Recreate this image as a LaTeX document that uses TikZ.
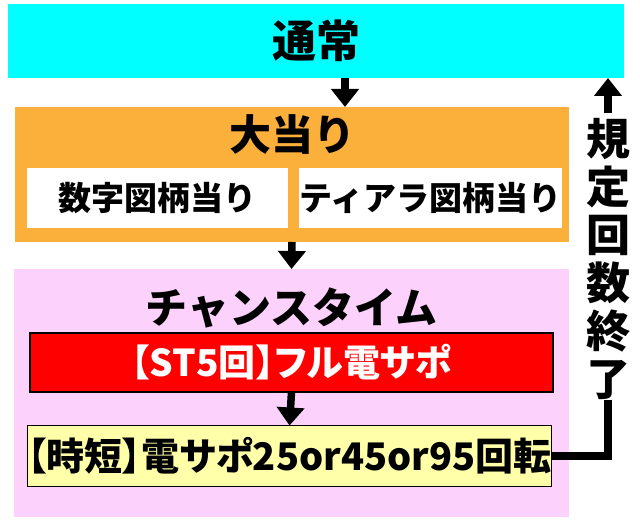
\documentclass[tikz,border=0pt]{standalone}
\usepackage{fontspec}
\setmainfont{Noto Sans CJK JP}
\newfontfamily\paltfont{Noto Sans CJK JP}[RawFeature=+palt]
\usepackage{tikz}
\usetikzlibrary{arrows.meta}
\usetikzlibrary{positioning}
\usetikzlibrary{calc}
\definecolor{TsujoCyan}{RGB}{0,255,255}
\definecolor{AtariOrange}{RGB}{251,176,59}
\definecolor{ChancePink}{RGB}{252,210,252}
\definecolor{StRed}{RGB}{255,0,0}
\definecolor{JitanYellow}{RGB}{255,255,170}
\tikzset{
  flowbox/.style={inner sep=0pt,outer sep=0pt,font=\bfseries},
  flowarrow/.style={line width=7.5pt,-{Triangle[width=27pt,length=18pt]}},
}

\begin{document}
\begin{tikzpicture}[x=1pt,y=-1pt,line join=miter]
\useasboundingbox (0,0) rectangle (640,521);
\node[flowbox,fill=TsujoCyan,minimum width=616pt,minimum height=74pt] (tsujo) at (316,41) {\fontsize{44}{44}\selectfont 通常};
\node[flowbox,fill=AtariOrange,minimum width=554pt,minimum height=135pt] (atari) at (292,174.5) {};
\node[flowbox] (ataritext) at (292,135) {\fontsize{42}{42}\selectfont 大当り};
\node[flowbox,fill=white,minimum width=261pt,minimum height=60pt] (suji) at (157.5,198) {\fontsize{33}{33}\selectfont 数字図柄当り};
\node[flowbox,fill=white,minimum width=261pt,minimum height=60pt] (tiara) at (430.5,198) {\fontsize{33}{33}\selectfont ティアラ図柄当り};
\node[flowbox,fill=ChancePink,minimum width=555pt,minimum height=248pt] (chance) at (291.5,393) {};
\node[flowbox] (chancetext) at (291.5,308) {\fontsize{42}{42}\selectfont チャンスタイム};
\node[flowbox,draw=black,line width=1.5pt,fill=StRed,text=white,minimum width=523pt,minimum height=59pt] (st) at (291.5,362.5) {\paltfont\bfseries\fontsize{37}{37}\selectfont 【ST5回】フル電サポ};
\node[flowbox,draw=black,line width=1.5pt,fill=JitanYellow,minimum width=523pt,minimum height=61pt] (jitan) at (289.5,456) {\paltfont\bfseries\fontsize{38}{38}\selectfont 【時短】電サポ25or45or95回転};
\node[flowbox,align=center,font=\bfseries\fontsize{44}{48}\selectfont] (kitei) at (608,259) {規\\定\\回\\数\\終\\了};
\draw[flowarrow] ([xshift=29pt]tsujo.south) -- ([xshift=29pt]tsujo.south |- atari.north);
\draw[flowarrow] (atari.south) -- (chance.north);
\draw[flowarrow] (st.south) -- (jitan.north);
\draw[line width=7.5pt] (jitan.east) -| (kitei.south);
\draw[flowarrow] ([yshift=5pt]kitei.north) -- (kitei.north |- tsujo.south);
\end{tikzpicture}
\end{document}
